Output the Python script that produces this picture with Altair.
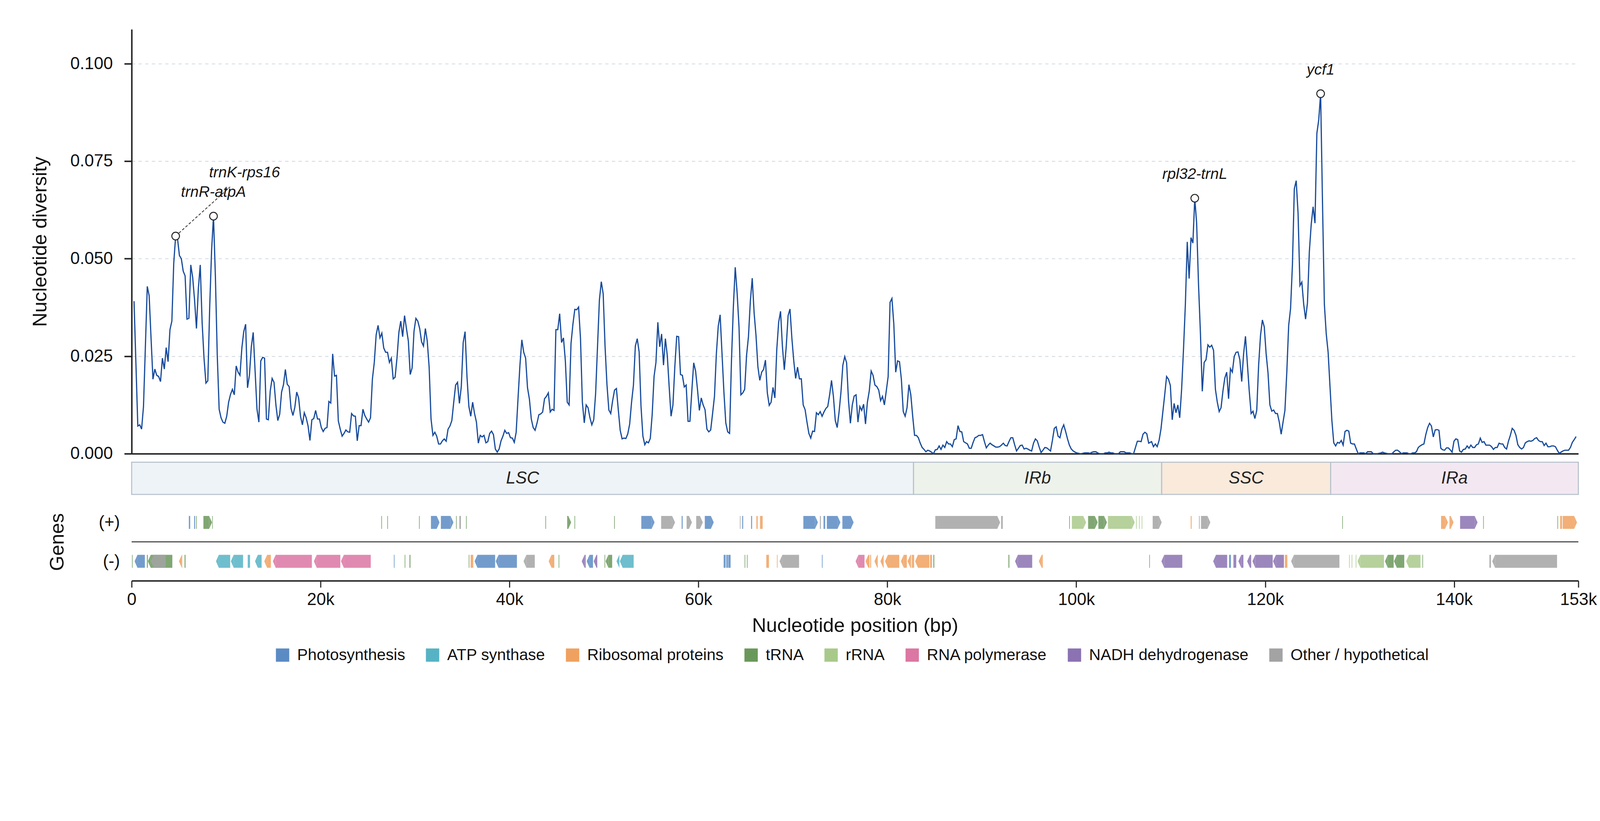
import altair as alt
import numpy as np
import pandas as pd

FONT = "Liberation Sans"
GENOME_LEN = 153150
Y_MAX = 0.1088
W = 3906
H_TOP, H_REG, H_GENE = 1146, 87, 210

# ---------------- nucleotide diversity (sliding window), three traced stretches ----------------
SEG1_RANGE = (252, 54323)
SEG1_PI = [
    0.0391, 0.0231, 0.0071, 0.0074, 0.0063, 0.0121, 0.0274, 0.0429, 0.0405, 0.0296, 0.0191, 0.0217, 0.0201,
    0.0198, 0.0185, 0.0245, 0.0217, 0.0272, 0.0236, 0.0318, 0.0340, 0.0489, 0.0558,
    0.0551, 0.0508, 0.0500, 0.0468, 0.0456, 0.0345, 0.0347, 0.0484, 0.0452, 0.0394,
    0.0321, 0.0423, 0.0484, 0.0336, 0.0245, 0.0181, 0.0187, 0.0376, 0.0521, 0.0609,
    0.0456, 0.0252, 0.0114, 0.0092, 0.0081, 0.0078, 0.0096, 0.0132, 0.0152, 0.0165,
    0.0151, 0.0225, 0.0209, 0.0201, 0.0271, 0.0313, 0.0332, 0.0169, 0.0201, 0.0274,
    0.0311, 0.0212, 0.0114, 0.0081, 0.0238, 0.0247, 0.0245, 0.0089, 0.0087, 0.0161,
    0.0193, 0.0183, 0.0125, 0.0085, 0.0101, 0.0158, 0.0177, 0.0216, 0.0178, 0.0172,
    0.0116, 0.0098, 0.0119, 0.0158, 0.0143, 0.0096, 0.0074, 0.0105, 0.0092, 0.0071,
    0.0034, 0.0087, 0.0090, 0.0111, 0.0089, 0.0089, 0.0067, 0.0057, 0.0065, 0.0067,
    0.0134, 0.0130, 0.0256, 0.0199, 0.0201, 0.0084, 0.0063, 0.0045, 0.0052, 0.0061,
    0.0056, 0.0055, 0.0103, 0.0097, 0.0096, 0.0033, 0.0072, 0.0072, 0.0114, 0.0098,
    0.0089, 0.0081, 0.0092, 0.0191, 0.0234, 0.0305, 0.0329, 0.0297, 0.0309, 0.0271,
    0.0260, 0.0260, 0.0234, 0.0245, 0.0192, 0.0196, 0.0245, 0.0311, 0.0340, 0.0300,
    0.0354, 0.0321, 0.0289, 0.0203, 0.0220, 0.0314, 0.0347, 0.0340, 0.0321, 0.0287,
    0.0276, 0.0321, 0.0289, 0.0222, 0.0089, 0.0047, 0.0055, 0.0045, 0.0025, 0.0025,
    0.0033, 0.0038, 0.0032, 0.0063, 0.0071, 0.0085, 0.0132, 0.0176, 0.0183, 0.0129,
    0.0172, 0.0285, 0.0313, 0.0198, 0.0121, 0.0096, 0.0132, 0.0103, 0.0081, 0.0027,
    0.0047, 0.0043, 0.0047, 0.0028, 0.0031, 0.0052, 0.0058, 0.0049, 0.0012, 0.0004,
    0.0012, 0.0033, 0.0045, 0.0060, 0.0052, 0.0054, 0.0041, 0.0040, 0.0029, 0.0055,
    0.0143, 0.0227, 0.0292, 0.0260, 0.0245, 0.0169, 0.0140, 0.0089, 0.0067, 0.0060,
    0.0078, 0.0100, 0.0102, 0.0107, 0.0141, 0.0147, 0.0156, 0.0107, 0.0114, 0.0111,
    0.0318, 0.0318, 0.0359, 0.0285, 0.0297, 0.0238, 0.0132, 0.0125, 0.0283, 0.0332,
    0.0370, 0.0369, 0.0376, 0.0296, 0.0132, 0.0079, 0.0125, 0.0118, 0.0092, 0.0074,
    0.0087, 0.0154, 0.0274, 0.0394, 0.0441, 0.0410, 0.0274, 0.0177, 0.0112, 0.0103,
    0.0136, 0.0163, 0.0167, 0.0112, 0.0060, 0.0038, 0.0040, 0.0039, 0.0051, 0.0076,
    0.0132, 0.0176, 0.0276, 0.0295, 0.0261, 0.0121, 0.0045, 0.0023,
]

SEG2_RANGE = (54504, 107664)
SEG2_PI = [
    0.0031, 0.0028, 0.0039, 0.0100, 0.0198, 0.0234, 0.0337, 0.0274, 0.0307, 0.0227,
    0.0295, 0.0252, 0.0172, 0.0096, 0.0125, 0.0223, 0.0301, 0.0300, 0.0203, 0.0201,
    0.0171, 0.0176, 0.0083, 0.0083, 0.0161, 0.0233, 0.0212, 0.0165, 0.0111, 0.0143,
    0.0125, 0.0113, 0.0063, 0.0056, 0.0061, 0.0103, 0.0147, 0.0256, 0.0327, 0.0356,
    0.0256, 0.0158, 0.0079, 0.0056, 0.0052, 0.0238, 0.0376, 0.0478, 0.0412, 0.0325,
    0.0151, 0.0156, 0.0165, 0.0252, 0.0300, 0.0391, 0.0450, 0.0361, 0.0303, 0.0223,
    0.0188, 0.0209, 0.0216, 0.0240, 0.0156, 0.0124, 0.0132, 0.0170, 0.0143, 0.0267,
    0.0337, 0.0365, 0.0274, 0.0215, 0.0274, 0.0354, 0.0371, 0.0296, 0.0238, 0.0193,
    0.0222, 0.0192, 0.0192, 0.0125, 0.0113, 0.0081, 0.0052, 0.0040, 0.0058, 0.0057,
    0.0105, 0.0100, 0.0108, 0.0096, 0.0107, 0.0116, 0.0121, 0.0151, 0.0188, 0.0147,
    0.0085, 0.0067, 0.0107, 0.0158, 0.0227, 0.0249, 0.0233, 0.0136, 0.0078, 0.0125,
    0.0148, 0.0151, 0.0081, 0.0121, 0.0111, 0.0127, 0.0076, 0.0132, 0.0161, 0.0212,
    0.0201, 0.0176, 0.0172, 0.0163, 0.0136, 0.0147, 0.0125, 0.0161, 0.0198, 0.0388,
    0.0398, 0.0332, 0.0209, 0.0238, 0.0236, 0.0191, 0.0108, 0.0096, 0.0118, 0.0177,
    0.0151, 0.0096, 0.0047, 0.0047, 0.0041, 0.0027, 0.0016, 0.0011, 0.0005, 0.0009,
    0.0007, 0.0004, 0.0000, 0.0010, 0.0011, 0.0020, 0.0011, 0.0022, 0.0016, 0.0031,
    0.0025, 0.0025, 0.0018, 0.0036, 0.0038, 0.0072, 0.0057, 0.0056, 0.0031, 0.0028,
    0.0025, 0.0014, 0.0014, 0.0029, 0.0041, 0.0043, 0.0047, 0.0047, 0.0049, 0.0031,
    0.0015, 0.0022, 0.0027, 0.0023, 0.0020, 0.0017, 0.0017, 0.0018, 0.0022, 0.0027,
    0.0021, 0.0020, 0.0031, 0.0041, 0.0041, 0.0023, 0.0007, 0.0014, 0.0021, 0.0022,
    0.0012, 0.0014, 0.0012, 0.0009, 0.0007, 0.0027, 0.0038, 0.0033, 0.0017, 0.0003,
    0.0009, 0.0016, 0.0015, 0.0011, 0.0007, 0.0034, 0.0065, 0.0069, 0.0045, 0.0041,
    0.0063, 0.0074, 0.0057, 0.0038, 0.0022, 0.0012, 0.0007, 0.0004, 0.0002, 0.0001,
    0.0000, 0.0001, 0.0002, 0.0002, 0.0002, 0.0001, 0.0004, 0.0005, 0.0005, 0.0002,
    0.0000, 0.0000, 0.0000, 0.0002, 0.0002, 0.0004, 0.0002, 0.0002, 0.0000, 0.0000,
    0.0000, 0.0005, 0.0005, 0.0005, 0.0002, 0.0002, 0.0002, 0.0000, 0.0000, 0.0016,
    0.0032, 0.0032, 0.0031, 0.0050, 0.0055, 0.0051, 0.0027,
]

SEG3_RANGE = (107969, 152908)
SEG3_PI = [
    0.0031, 0.0018, 0.0025, 0.0018, 0.0034, 0.0063, 0.0107, 0.0151, 0.0198, 0.0191,
    0.0175, 0.0087, 0.0129, 0.0105, 0.0125, 0.0092, 0.0165, 0.0267, 0.0383, 0.0543,
    0.0449, 0.0554, 0.0540, 0.0655, 0.0591, 0.0434, 0.0311, 0.0160, 0.0234, 0.0241,
    0.0279, 0.0273, 0.0278, 0.0265, 0.0165, 0.0132, 0.0108, 0.0118, 0.0161, 0.0194,
    0.0209, 0.0141, 0.0218, 0.0209, 0.0249, 0.0260, 0.0261, 0.0241, 0.0185, 0.0256,
    0.0301, 0.0231, 0.0161, 0.0103, 0.0109, 0.0090, 0.0111, 0.0227, 0.0303, 0.0343,
    0.0325, 0.0256, 0.0207, 0.0125, 0.0109, 0.0112, 0.0103, 0.0103, 0.0081, 0.0050,
    0.0081, 0.0111, 0.0209, 0.0329, 0.0372, 0.0485, 0.0679, 0.0700, 0.0616, 0.0431,
    0.0440, 0.0383, 0.0345, 0.0387, 0.0518, 0.0588, 0.0633, 0.0591, 0.0821, 0.0856,
    0.0923, 0.0645, 0.0383, 0.0307, 0.0260, 0.0172, 0.0085, 0.0028, 0.0020, 0.0029,
    0.0027, 0.0034, 0.0022, 0.0057, 0.0060, 0.0058, 0.0027, 0.0025, 0.0025, 0.0012,
    0.0000, 0.0002, 0.0002, 0.0002, 0.0000, 0.0005, 0.0005, 0.0005, 0.0000, 0.0000,
    0.0000, 0.0001, 0.0002, 0.0004, 0.0002, 0.0001, 0.0000, 0.0000, 0.0000, 0.0005,
    0.0009, 0.0009, 0.0005, 0.0000, 0.0002, 0.0002, 0.0002, 0.0000, 0.0000, 0.0002,
    0.0002, 0.0005, 0.0016, 0.0020, 0.0023, 0.0025, 0.0049, 0.0067, 0.0078, 0.0071,
    0.0043, 0.0061, 0.0062, 0.0060, 0.0014, 0.0010, 0.0009, 0.0015, 0.0015, 0.0010,
    0.0004, 0.0032, 0.0038, 0.0036, 0.0007, 0.0004, 0.0011, 0.0012, 0.0020, 0.0014,
    0.0022, 0.0016, 0.0016, 0.0023, 0.0025, 0.0040, 0.0029, 0.0031, 0.0022, 0.0022,
    0.0022, 0.0018, 0.0011, 0.0016, 0.0016, 0.0027, 0.0025, 0.0025, 0.0016, 0.0012,
    0.0032, 0.0047, 0.0065, 0.0060, 0.0047, 0.0023, 0.0016, 0.0012, 0.0016, 0.0028,
    0.0031, 0.0033, 0.0032, 0.0034, 0.0039, 0.0041, 0.0034, 0.0031, 0.0031, 0.0021,
    0.0027, 0.0018, 0.0018, 0.0020, 0.0020, 0.0018, 0.0009, 0.0001, 0.0004, 0.0007,
    0.0009, 0.0009, 0.0009, 0.0016, 0.0029, 0.0036, 0.0044,
]

# ---------------- annotated peaks ----------------
ANNOT_LABEL = ["trnK-rps16", "trnR-atpA", "rpl32-trnL", "ycf1"]
ANNOT_NEAR = [4660, 8660, 112560, 125960]
ANNOT_LABEL_POS = [11950, None, None, None]      # repelled label position (bp)
ANNOT_LABEL_PI = [0.0659, None, None, None]
LEADER_END = (10420, 0.0684)

# ---------------- regions ----------------
REGION = ["LSC", "IRb", "SSC", "IRa"]
REGION_START = [0, 82770, 109040, 126930]
REGION_END = [82770, 109040, 126930, 153150]
REGION_FILL = ["#eef3f7", "#edf2eb", "#f9eadb", "#f3e8f1"]

# ---------------- genes ----------------
CATS = ["Photosynthesis", "ATP synthase", "Ribosomal proteins", "tRNA", "rRNA",
        "RNA polymerase", "NADH dehydrogenase", "Other / hypothetical"]
CAT_COLORS = ["#5b8bc3", "#56b3c4", "#f0a15f", "#6a985b", "#a9c98b", "#dc76a3", "#8b72b2", "#a3a3a3"]
CODE = {"P": CATS[0], "A": CATS[1], "R": CATS[2], "T": CATS[3], "r": CATS[4],
        "Pol": CATS[5], "N": CATS[6], "O": CATS[7]}

PLUS_START = [6056, 6616, 6826, 7596, 8520, 26431, 27062, 30423, 31684, 32734, 34344, 34690, 35394,
              43797, 46107, 46877, 51078, 53952, 56053, 58223, 58749, 59764, 60674, 64385, 64630,
              65575, 66135, 66520, 71107, 72858, 73243, 73593, 75239, 85076, 92043, 99250, 99535,
              101250, 102336, 103351, 106327, 106642, 106922, 108087, 112113, 112990, 113202,
              128154, 138616, 139507, 140630, 143073, 150930, 151224, 151488]
PLUS_END = [6196, 6721, 6896, 8507, 8580, 26501, 27132, 30493, 32594, 34064, 34414, 34860, 35464,
            43867, 46527, 46947, 51148, 55353, 57523, 58329, 59309, 60464, 61620, 64455, 64735,
            65680, 66275, 66800, 72648, 72963, 73418, 75029, 76429, 91938, 92218, 99320, 101040,
            102266, 103246, 106187, 106397, 106712, 106992, 109044, 112212, 113070, 114193,
            128220, 139342, 139936, 142478, 143138, 151000, 151422, 153006]
PLUS_CAT = ["P", "P", "T", "T", "T", "T", "T", "T", "P", "P", "T", "O", "T",
            "T", "T", "T", "T", "P", "O", "P", "O", "O", "P", "O", "P",
            "P", "R", "R", "P", "O", "P", "P", "P", "O", "O", "T", "r",
            "T", "T", "r", "r", "r", "r", "O", "R", "O", "O",
            "T", "R", "R", "N", "T", "T", "R", "R"]

MINUS_START = [34, 314, 1610, 1715, 5006, 5601, 8927, 10502, 12288, 13058, 14038, 14948, 19290, 22160,
               27762, 28900, 29409, 35680, 35884, 36305, 38540, 41486, 44147, 45197, 47648, 48173,
               48908, 50060, 50169, 51324, 51680, 62670, 62950, 63160, 64890, 65130, 67186, 68307,
               68587, 73068, 76639, 77689, 78179, 78634, 79264, 79754, 81435, 82135, 82590, 82940,
               84516, 84866, 92814, 93514, 96034, 107724, 109011, 114490, 116173, 116635, 117163,
               118087, 118649, 120827, 122081, 122741, 128880, 129150, 129580, 129771, 132675,
               133632, 134920, 136640, 143732, 144029]
MINUS_END = [104, 1400, 1715, 4306, 5356, 5706, 10432, 11798, 12533, 13758, 14738, 19080, 22090, 25311,
             27832, 28970, 29514, 35750, 36164, 38480, 40786, 42676, 44742, 45267, 48068, 48838,
             49293, 50130, 50869, 51639, 53144, 62880, 63125, 63405, 64960, 65200, 67466, 68376,
             70652, 73138, 77584, 78109, 78284, 78984, 79614, 81260, 82065, 82520, 82835, 84446,
             84726, 84971, 92919, 95334, 96454, 107790, 111222, 115975, 116371, 116932, 117691,
             118516, 120794, 121982, 122345, 127857, 128950, 129220, 129650, 132576, 133599,
             134722, 136438, 136710, 143897, 150894]
MINUS_CAT = ["T", "P", "T", "T", "R", "T", "A", "A", "A", "A", "R", "Pol", "Pol", "Pol",
             "P", "T", "T", "T", "R", "P", "P", "O", "R", "T", "N", "P",
             "N", "T", "T", "A", "A", "P", "P", "P", "T", "T", "R", "R",
             "O", "P", "Pol", "R", "R", "R", "R", "R", "R", "R", "R", "R",
             "R", "T", "T", "N", "R", "T", "N", "N", "P", "N", "N",
             "N", "N", "N", "R", "O", "r", "r", "r", "r", "T",
             "T", "r", "T", "O", "O"]

# gene nested inside another one (matK within trnK intron), drawn on top
NESTED_START = [2030]
NESTED_END = [3605]
NESTED_STRAND = ["-"]
NESTED_CAT = ["O"]

# ---------------- style ----------------
HEAD_BP = 300                # arrow head length
HEAD_PX = 35                 # arrow height in px
HEAD_HALF_W = 0.2186         # head half-width in symbol units (≈ HEAD_BP on screen)
HALF_H = 0.333
LINE_COLOR = "#164a9b"
INK = "#111111"
AXIS_INK = "#222222"

# ---------------- build tables ----------------
pos_parts, pi_parts = [], []
for (s, e), vals in [(SEG1_RANGE, SEG1_PI), (SEG2_RANGE, SEG2_PI), (SEG3_RANGE, SEG3_PI)]:
    pos_parts.append(np.linspace(s, e, len(vals)))
    pi_parts.append(np.array(vals))
div = pd.DataFrame({"pos": np.concatenate(pos_parts), "pi": np.concatenate(pi_parts)})

ann_rows = []
for lab, near, lp, lv in zip(ANNOT_LABEL, ANNOT_NEAR, ANNOT_LABEL_POS, ANNOT_LABEL_PI):
    win = div[(div.pos > near - 800) & (div.pos < near + 800)]
    r = win.loc[win.pi.idxmax()]
    ann_rows.append({"label": lab, "pos": float(r.pos), "pi": float(r.pi),
                     "lpos": float(r.pos) if lp is None else lp,
                     "lpi": float(r.pi) if lv is None else lv})
ann = pd.DataFrame(ann_rows)
leader = pd.DataFrame([{"pos": ann.pos[0], "pi": ann.pi[0], "pos2": LEADER_END[0], "pi2": LEADER_END[1]}])

reg = pd.DataFrame({"region": REGION, "start": REGION_START, "end": REGION_END})


def gene_parts(starts, ends, strands, cats):
    bodies, heads = [], []
    for s, e, st, c in zip(starts, ends, strands, cats):
        mid = 1.0 if st == "+" else -1.0
        has_head = (e - s) >= HEAD_BP
        if st == "+":
            b0, b1 = s, (e - HEAD_BP if has_head else e)
            hx = e - HEAD_BP / 2
        else:
            b0, b1 = (s + HEAD_BP if has_head else s), e
            hx = s + HEAD_BP / 2
        if b1 > b0:
            bodies.append({"gx": float(b0), "gx2": float(b1), "gy": mid + HALF_H, "gy2": mid - HALF_H,
                           "cat": CODE[c]})
        if has_head:
            heads.append({"gx": float(hx), "gy": mid, "strand": st, "cat": CODE[c]})
    return pd.DataFrame(bodies), pd.DataFrame(heads)


all_start = PLUS_START + MINUS_START
all_end = PLUS_END + MINUS_END
all_strand = ["+"] * len(PLUS_START) + ["-"] * len(MINUS_START)
all_cat = PLUS_CAT + MINUS_CAT
bodies, heads = gene_parts(all_start, all_end, all_strand, all_cat)
n_bodies, n_heads = gene_parts(NESTED_START, NESTED_END, NESTED_STRAND, NESTED_CAT)

# ---------------- encodings ----------------
XSCALE = alt.Scale(domain=[0, GENOME_LEN], nice=False, zero=False)
TOP_X_AXIS = alt.Axis(labels=False, ticks=False, grid=False, title=None,
                      domainColor=AXIS_INK, domainWidth=4)
TOP_Y_AXIS = alt.Axis(values=[0, 0.025, 0.05, 0.075, 0.1], format=".3f",
                      title="Nucleotide diversity", titleFontSize=53, titlePadding=53,
                      labelFontSize=46, labelPadding=31, tickSize=20, tickWidth=4,
                      tickColor=AXIS_INK, domainColor=AXIS_INK, domainWidth=4,
                      grid=True, gridDash=[9, 9], gridColor="#d8dee4", gridWidth=2.5)


def tx(f):
    return alt.X(f"{f}:Q", scale=XSCALE, axis=TOP_X_AXIS)


def ty(f):
    return alt.Y(f"{f}:Q", scale=alt.Scale(domain=[0, Y_MAX], nice=False), axis=TOP_Y_AXIS)


line = alt.Chart(div).mark_line(color=LINE_COLOR, strokeWidth=3.2).encode(x=tx("pos"), y=ty("pi"))
lead = alt.Chart(leader).mark_rule(color="#333333", strokeWidth=2.2, strokeDash=[7, 5]).encode(
    x=tx("pos"), y=ty("pi"), x2="pos2:Q", y2="pi2:Q")
circ = alt.Chart(ann).mark_point(shape="circle", filled=True, fill="white", stroke="#222222",
                                 strokeWidth=2.6, size=430, opacity=1).encode(x=tx("pos"), y=ty("pi"))
labs = alt.Chart(ann).mark_text(font=FONT, fontSize=41, fontStyle="italic", color="#161616",
                                align="center", baseline="alphabetic", dy=-52).encode(
    x=tx("lpos"), y=ty("lpi"), text="label:N")
top = alt.layer(line, lead, circ, labs).properties(width=W, height=H_TOP)

reg_rect = alt.Chart(reg).mark_rect(stroke="#b9c3cd", strokeWidth=3).encode(
    x=alt.X("start:Q", scale=XSCALE, axis=None), x2="end:Q",
    color=alt.Color("region:N", scale=alt.Scale(domain=REGION, range=REGION_FILL), legend=None))
reg_text = alt.Chart(reg).transform_calculate(mid="(datum.start + datum.end) / 2").mark_text(
    font=FONT, fontSize=46, fontStyle="italic", color="#222222", baseline="middle").encode(
    x=alt.X("mid:Q", scale=XSCALE, axis=None), text="region:N")
regions = alt.layer(reg_rect, reg_text).properties(width=W, height=H_REG)

GENE_X_AXIS = alt.Axis(values=[0, 20000, 40000, 60000, 80000, 100000, 120000, 140000, GENOME_LEN],
                       labelExpr="datum.value == 0 ? '0' : round(datum.value / 1000) + 'k'",
                       labelFlush=False, labelOverlap=False, labelFontSize=46, labelPadding=11,
                       tickSize=18, tickWidth=3, tickColor=AXIS_INK, domainColor=AXIS_INK,
                       domainWidth=4, grid=False, title="Nucleotide position (bp)",
                       titleFontSize=53, titlePadding=22)
GENE_Y_AXIS = alt.Axis(values=[1, -1], labelExpr="datum.value > 0 ? '(+)' : '(-)'",
                       ticks=False, domain=False, grid=False, labelFontSize=46, labelPadding=32,
                       title="Genes", titleFontSize=53, titlePadding=84)
GSCALE_Y = alt.Scale(domain=[-2, 2], nice=False)
COLOR = alt.Color("cat:N", scale=alt.Scale(domain=CATS, range=CAT_COLORS),
                  legend=alt.Legend(orient="none", legendX=386, legendY=389, direction="horizontal",
                                    columns=8, title=None, symbolType="square", symbolSize=1296,
                                    symbolStrokeWidth=0, symbolOpacity=1, labelFontSize=43,
                                    labelFont=FONT, labelColor=INK, labelOffset=18, labelLimit=2000,
                                    columnPadding=52, padding=0))


def gx(f):
    return alt.X(f"{f}:Q", scale=XSCALE, axis=GENE_X_AXIS)


def gy(f):
    return alt.Y(f"{f}:Q", scale=GSCALE_Y, axis=GENE_Y_AXIS)


a = HEAD_HALF_W
HEAD_RIGHT = f"M{-a},-1L{a},0L{-a},1Z"
HEAD_LEFT = f"M{a},-1L{-a},0L{a},1Z"


def gene_layers(b, h):
    out = [alt.Chart(b).mark_rect(opacity=0.85, strokeWidth=0).encode(
        x=gx("gx"), x2="gx2:Q", y=gy("gy"), y2="gy2:Q", color=COLOR)]
    for strand, path in [("+", HEAD_RIGHT), ("-", HEAD_LEFT)]:
        hs = h[h.strand == strand]
        if len(hs):
            out.append(alt.Chart(hs).mark_point(shape=path, filled=True, size=HEAD_PX ** 2,
                                                opacity=0.85, strokeWidth=0).encode(
                x=gx("gx"), y=gy("gy"), color=COLOR))
    return out


sep = alt.Chart(pd.DataFrame({"gy": [0.0]})).mark_rule(color="#333333", strokeWidth=2.5).encode(y=gy("gy"))
gene_panel = alt.layer(sep, *gene_layers(bodies, heads), *gene_layers(n_bodies, n_heads)).properties(
    width=W, height=H_GENE)

chart = alt.vconcat(top, regions, gene_panel, spacing=23, bounds="flush").resolve_scale(
    color="independent").properties(
    padding={"left": 74, "top": 23, "right": 0, "bottom": 10}, background="white"
).configure_view(stroke=None).configure_axis(
    labelFont=FONT, titleFont=FONT, labelColor=INK, titleColor=INK, titleFontWeight="normal"
).configure_text(font=FONT)

chart.save("out.html", embed_options={"renderer": "svg", "actions": False})
